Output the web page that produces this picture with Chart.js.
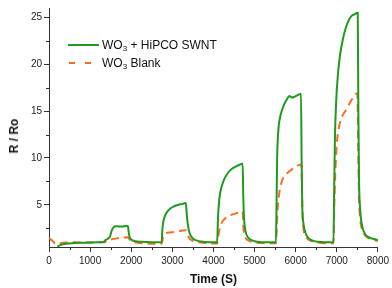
<!DOCTYPE html>
<html>
<head>
<meta charset="utf-8">
<script src="https://cdn.jsdelivr.net/npm/chart.js@4.4.1/dist/chart.umd.min.js"></script>
<style>
  body { margin: 0; background: #fff; }
  #wrap { position: relative; width: 392px; height: 288px; font-family: "Liberation Sans", Arial, sans-serif; }
  #legend { position: absolute; left: 68px; top: 36px; font-size: 12px; color: #111; }
  #legend .row { height: 18px; display: flex; align-items: center; }
  #legend svg { width: 31px; height: 4px; margin-right: 3px; }
  #legend sub { font-size: 8px; vertical-align: -2px; }
  #ytitle { position: absolute; left: 14px; top: 136px; transform: translate(-50%, -50%) rotate(-90deg);
            font-size: 12px; font-weight: bold; color: #111; white-space: nowrap; }
</style>
</head>
<body>
<div id="wrap">
  <canvas id="chart"></canvas>
  <div id="legend">
    <div class="row"><svg><line x1="0" y1="2" x2="31" y2="2" stroke="#1f9a1f" stroke-width="2"/></svg><span>WO<sub>3</sub> + HiPCO SWNT</span></div>
    <div class="row"><svg><line x1="1" y1="2" x2="31" y2="2" stroke="#ff6a1f" stroke-width="2" stroke-dasharray="6 10"/></svg><span>WO<sub>3</sub> Blank</span></div>
  </div>
  <div id="ytitle">R / Ro</div>
</div>
<script>
const seriesNames = ["WO\u2083 + HiPCO SWNT", "WO\u2083 Blank"];

const swntTime = [200, 300, 400, 600, 800, 1000, 1200, 1330, 1360, 1420, 1480, 1530, 1570, 1620, 1700, 1780, 1850, 1920, 1935, 1960, 2000, 2100, 2250, 2500, 2740,
  2760, 2790, 2850, 2950, 3050, 3150, 3250, 3330, 3350, 3380, 3420, 3480, 3550, 3700, 3900, 4090,
  4110, 4140, 4180, 4250, 4350, 4450, 4550, 4650, 4710, 4725, 4745, 4780, 4830, 4900, 5000, 5150, 5300, 5520,
  5535, 5550, 5580, 5630, 5700, 5780, 5850, 5900, 5960, 6050, 6130, 6145, 6160, 6190, 6240, 6300, 6400, 6550, 6700, 6920,
  6935, 6955, 6985, 7030, 7080, 7150, 7200, 7280, 7350, 7420, 7510, 7525, 7540, 7570, 7620, 7700, 7800, 7900, 8000];
const swntValue = [0.55, 0.75, 0.85, 0.92, 0.95, 0.98, 1.0, 1.02, 1.2, 1.35, 1.6, 2.3, 2.6, 2.72, 2.7, 2.68, 2.72, 2.75, 2.2, 1.6, 1.3, 1.12, 1.05, 1.0, 1.0,
  2.5, 3.4, 4.1, 4.6, 4.85, 5.0, 5.1, 5.2, 4.0, 2.8, 2.0, 1.5, 1.25, 1.08, 1.0, 1.0,
  3.5, 5.5, 6.6, 7.6, 8.4, 8.85, 9.1, 9.3, 9.4, 6.0, 3.5, 2.2, 1.6, 1.3, 1.12, 1.02, 1.0, 1.0,
  5.0, 10.0, 13.0, 14.5, 15.5, 16.2, 16.6, 16.45, 16.5, 16.7, 16.85, 10.0, 5.0, 3.0, 2.0, 1.5, 1.2, 1.05, 1.0, 1.0,
  6.0, 12.0, 16.0, 19.0, 21.0, 22.7, 23.6, 24.6, 25.1, 25.3, 25.5, 15.0, 8.0, 4.5, 2.7, 1.8, 1.5, 1.35, 1.25];

const blankTime = [0, 100, 150, 300, 400, 600, 800, 1000, 1200, 1350, 1420, 1500, 1650, 1800, 1920, 1960, 2000, 2150, 2300, 2500, 2740,
  2770, 2820, 2950, 3100, 3250, 3330, 3360, 3420, 3500, 3650, 3850, 4090,
  4130, 4190, 4300, 4450, 4600, 4710, 4730, 4770, 4850, 5000, 5200, 5520,
  5540, 5560, 5600, 5650, 5700, 5800, 5950, 6140, 6160, 6190, 6250, 6350, 6500, 6700, 6920,
  6940, 6970, 7000, 7050, 7100, 7250, 7350, 7500, 7520, 7540, 7570, 7620, 7700, 7800, 7900, 8000];
const blankValue = [1.45, 1.1, 0.85, 0.92, 0.97, 1.0, 0.98, 0.98, 1.0, 1.0, 1.2, 1.3, 1.42, 1.5, 1.55, 1.3, 1.1, 0.95, 0.9, 0.85, 0.85,
  1.5, 1.9, 2.05, 2.15, 2.25, 2.3, 1.9, 1.4, 1.15, 1.0, 0.9, 0.88,
  2.0, 3.0, 3.6, 3.95, 4.15, 4.3, 2.5, 1.6, 1.2, 1.0, 0.92, 0.9,
  2.5, 4.5, 6.2, 7.3, 7.9, 8.4, 8.9, 9.3, 5.0, 2.5, 1.6, 1.2, 1.0, 0.9, 0.9,
  5.0, 9.0, 11.5, 13.2, 14.1, 15.3, 16.1, 16.9, 12.0, 6.0, 3.5, 2.3, 1.7, 1.4, 1.25, 1.15];

const xTicks = [0, 1000, 2000, 3000, 4000, 5000, 6000, 7000, 8000];
const xMinor = [500, 1500, 2500, 3500, 4500, 5500, 6500, 7500];
const yTicks = [5, 10, 15, 20, 25];
const yMinor = [2.5, 7.5, 12.5, 17.5, 22.5];

const fontFamily = '"Liberation Sans", Arial, sans-serif';
const axisColor = '#333';

const minorTicks = {
  id: 'minorTicks',
  afterDraw(chart) {
    const { ctx, scales: { x, y } } = chart;
    ctx.save();
    ctx.strokeStyle = axisColor;
    ctx.lineWidth = 1;
    ctx.beginPath();
    xMinor.forEach(v => {
      const px = Math.round(x.getPixelForValue(v)) + 0.5;
      ctx.moveTo(px, x.top);
      ctx.lineTo(px, x.top + 3);
    });
    yMinor.forEach(v => {
      const py = Math.round(y.getPixelForValue(v)) + 0.5;
      ctx.moveTo(y.right, py);
      ctx.lineTo(y.right - 3, py);
    });
    ctx.stroke();
    ctx.restore();
  }
};

new Chart(document.getElementById('chart'), {
  type: 'line',
  data: {
    datasets: [
      {
        label: seriesNames[0],
        data: swntTime.map((t, i) => ({ x: t, y: swntValue[i] })),
        borderColor: '#1f9a1f',
        borderWidth: 2,
        pointRadius: 0,
        cubicInterpolationMode: 'monotone'
      },
      {
        label: seriesNames[1],
        data: blankTime.map((t, i) => ({ x: t, y: blankValue[i] })),
        borderColor: '#ff6a1f',
        borderWidth: 2,
        borderDash: [8, 5],
        pointRadius: 0,
        cubicInterpolationMode: 'monotone'
      }
    ]
  },
  options: {
    responsive: true,
    maintainAspectRatio: false,
    animation: false,
    layout: { padding: { top: 2, right: 13, left: 0, bottom: 0 } },
    plugins: { legend: { display: false }, tooltip: { enabled: false } },
    scales: {
      x: {
        type: 'linear',
        min: 0,
        max: 8000,
        afterBuildTicks: s => { s.ticks = xTicks.map(v => ({ value: v })); },
        afterFit: s => { s.height = 41; },
        ticks: { font: { family: fontFamily, size: 10 }, color: '#222', padding: 3, maxRotation: 0, autoSkip: false,
                 callback: v => String(v) },
        grid: { drawOnChartArea: false, tickLength: 5, tickColor: axisColor },
        border: { color: axisColor, width: 1 },
        title: { display: true, text: 'Time (S)', font: { family: fontFamily, size: 12, weight: 'bold' }, color: '#111', padding: { top: 0, bottom: 1 } }
      },
      y: {
        min: 0.5,
        max: 26,
        afterBuildTicks: s => { s.ticks = yTicks.map(v => ({ value: v })); },
        afterFit: s => { s.width = 49; },
        ticks: { font: { family: fontFamily, size: 10 }, color: '#222', padding: 2, callback: v => String(v) },
        grid: { drawOnChartArea: false, tickLength: 5, tickColor: axisColor },
        border: { color: axisColor, width: 1 }
      }
    }
  },
  plugins: [minorTicks]
});
</script>
</body>
</html>
